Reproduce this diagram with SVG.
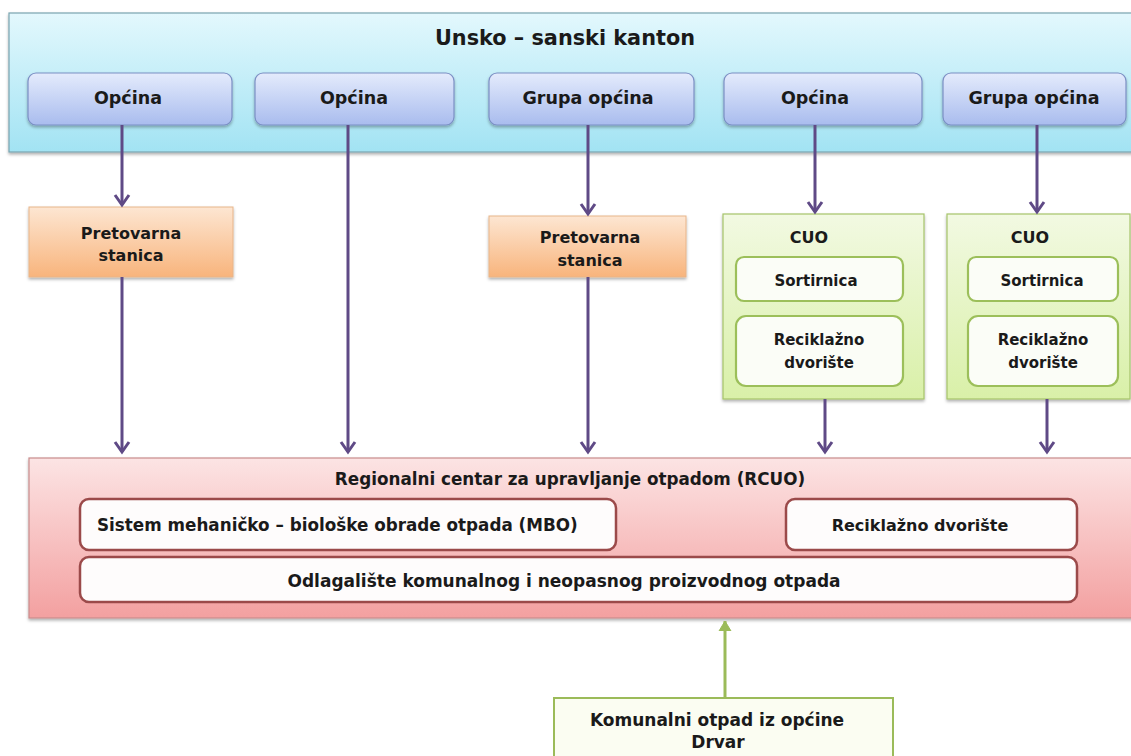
<svg xmlns="http://www.w3.org/2000/svg" width="1131" height="756" viewBox="0 0 1131 756">
<style>
text{font-family:"DejaVu Sans","Liberation Sans",sans-serif;font-weight:bold;fill:#1a1a1a;text-anchor:middle}
.t20{font-size:20.8px}
.t17{font-size:17.5px}
.t16{font-size:16px}
.t168{font-size:16.8px}
.t15{font-size:15px}
.arrow{stroke:#5f4a86;stroke-width:3;fill:none;marker-end:url(#chev)}
.garrow{stroke:#9bbb59;stroke-width:3;fill:none;marker-end:url(#gchev)}
.opc{fill:url(#gBlue);stroke:#7b8fc4;stroke-width:1.2}
.pret{fill:url(#gOrange);stroke:#e8b58a;stroke-width:1}
.cuo{fill:url(#gGreen);stroke:#a6c46a;stroke-width:1.2}
.cin{fill:#fbfdf7;stroke:#9cbf5a;stroke-width:2.2}
.rin{fill:#fefcfc;stroke:#9b4a4a;stroke-width:2.5}
</style>
<defs>
<linearGradient id="gSky" x1="0" y1="0" x2="0" y2="1">
<stop offset="0" stop-color="#e3f8fd"/><stop offset="1" stop-color="#a2e3f3"/>
</linearGradient>
<linearGradient id="gBlue" x1="0" y1="0" x2="0" y2="1">
<stop offset="0" stop-color="#e4ebfc"/><stop offset="1" stop-color="#a9bcee"/>
</linearGradient>
<linearGradient id="gOrange" x1="0" y1="0" x2="0" y2="1">
<stop offset="0" stop-color="#fde6d2"/><stop offset="1" stop-color="#f8b47c"/>
</linearGradient>
<linearGradient id="gGreen" x1="0" y1="0" x2="0" y2="1">
<stop offset="0" stop-color="#f2f9e2"/><stop offset="1" stop-color="#d9f0a8"/>
</linearGradient>
<linearGradient id="gPink" x1="0" y1="0" x2="0" y2="1">
<stop offset="0" stop-color="#fce4e4"/><stop offset="1" stop-color="#f3a0a0"/>
</linearGradient>
<filter id="sh" x="-5%" y="-10%" width="110%" height="130%">
<feDropShadow dx="0" dy="2" stdDeviation="1.5" flood-color="#000" flood-opacity="0.3"/>
</filter>
<marker id="chev" markerUnits="userSpaceOnUse" markerWidth="22" markerHeight="22" viewBox="-11 -11 22 22" refX="0" refY="0" orient="auto">
<path d="M-10,-7 L0,0 L-10,7" fill="none" stroke="#5f4a86" stroke-width="3" stroke-linejoin="miter"/>
</marker>
<marker id="gchev" markerUnits="userSpaceOnUse" markerWidth="20" markerHeight="20" viewBox="-10 -10 20 20" refX="0" refY="0" orient="auto">
<path d="M-10,-6 L0,0 L-10,6 Z" fill="#9bbb59" stroke="#9bbb59" stroke-width="1"/>
</marker>
</defs>
<rect width="1131" height="756" fill="#ffffff"/>

<g id="kanton">
<rect x="9" y="13" width="1135" height="139" fill="url(#gSky)" stroke="#7aa4b0" stroke-width="1.2" filter="url(#sh)"/>
<text class="t20" x="565" y="45">Unsko – sanski kanton</text>
</g>

<g id="opcina1"><rect class="opc" x="28" y="73" width="204" height="52" rx="8" filter="url(#sh)"/><text class="t17" x="128" y="104">Općina</text></g>
<g id="opcina2"><rect class="opc" x="255" y="73" width="199" height="52" rx="8" filter="url(#sh)"/><text class="t17" x="354" y="104">Općina</text></g>
<g id="grupa1"><rect class="opc" x="489" y="73" width="205" height="52" rx="8" filter="url(#sh)"/><text class="t17" x="588" y="104">Grupa općina</text></g>
<g id="opcina3"><rect class="opc" x="724" y="73" width="198" height="52" rx="8" filter="url(#sh)"/><text class="t17" x="815" y="104">Općina</text></g>
<g id="grupa2"><rect class="opc" x="943" y="73" width="183" height="52" rx="8" filter="url(#sh)"/><text class="t17" x="1034" y="104">Grupa općina</text></g>

<g id="pretovarna1"><rect class="pret" x="29" y="207" width="204" height="70" filter="url(#sh)"/><text class="t16" x="131" y="239">Pretovarna</text><text class="t16" x="131" y="261">stanica</text></g>
<g id="pretovarna2"><rect class="pret" x="489" y="216" width="197" height="61" filter="url(#sh)"/><text class="t16" x="590" y="243">Pretovarna</text><text class="t16" x="590" y="266">stanica</text></g>

<g id="cuo1">
<rect class="cuo" x="723" y="214" width="201" height="185" filter="url(#sh)"/>
<text class="t16" x="809" y="243">CUO</text>
<rect class="cin" x="736" y="257" width="167" height="44" rx="8"/>
<text class="t15" x="816" y="286">Sortirnica</text>
<rect class="cin" x="736" y="316" width="167" height="70" rx="10"/>
<text class="t15" x="819" y="345">Reciklažno</text>
<text class="t15" x="819" y="368">dvorište</text>
</g>
<g id="cuo2">
<rect class="cuo" x="947" y="214" width="183" height="185" filter="url(#sh)"/>
<text class="t16" x="1030" y="243">CUO</text>
<rect class="cin" x="968" y="257" width="150" height="44" rx="8"/>
<text class="t15" x="1042" y="286">Sortirnica</text>
<rect class="cin" x="968" y="316" width="150" height="70" rx="10"/>
<text class="t15" x="1043" y="345">Reciklažno</text>
<text class="t15" x="1043" y="368">dvorište</text>
</g>

<g id="rcuo">
<rect x="29" y="458" width="1115" height="160" fill="url(#gPink)" stroke="#c88c8c" stroke-width="1.2" filter="url(#sh)"/>
<text class="t168" x="570" y="485">Regionalni centar za upravljanje otpadom (RCUO)</text>
<rect class="rin" x="80" y="499" width="536" height="51" rx="9"/>
<text class="t168" x="97" y="531" style="text-anchor:start">Sistem mehaničko – biološke obrade otpada (MBO)</text>
<rect class="rin" x="786" y="499" width="291" height="51" rx="9"/>
<text class="t16" x="920" y="531">Reciklažno dvorište</text>
<rect class="rin" x="80" y="557" width="997" height="45" rx="9"/>
<text class="t168" x="564" y="587" style="font-size:17px">Odlagalište komunalnog i neopasnog proizvodnog otpada</text>
</g>

<g id="drvar">
<rect x="554" y="698" width="339" height="80" fill="#fbfdf2" stroke="#9bbb59" stroke-width="2"/>
<text class="t168" x="717" y="726" style="font-size:17px">Komunalni otpad iz općine</text>
<text class="t168" x="718" y="748" style="font-size:17px">Drvar</text>
</g>

<g id="connectors">
<line class="arrow" x1="122" y1="125" x2="122" y2="205"/>
<line class="arrow" x1="348" y1="125" x2="348" y2="452"/>
<line class="arrow" x1="588" y1="125" x2="588" y2="214"/>
<line class="arrow" x1="815" y1="125" x2="815" y2="212"/>
<line class="arrow" x1="1037" y1="125" x2="1037" y2="212"/>
<line class="arrow" x1="122" y1="277" x2="122" y2="452"/>
<line class="arrow" x1="588" y1="277" x2="588" y2="452"/>
<line class="arrow" x1="825" y1="399" x2="825" y2="452"/>
<line class="arrow" x1="1047" y1="399" x2="1047" y2="452"/>
<line class="garrow" x1="725" y1="698" x2="725" y2="621"/>
</g>
</svg>
